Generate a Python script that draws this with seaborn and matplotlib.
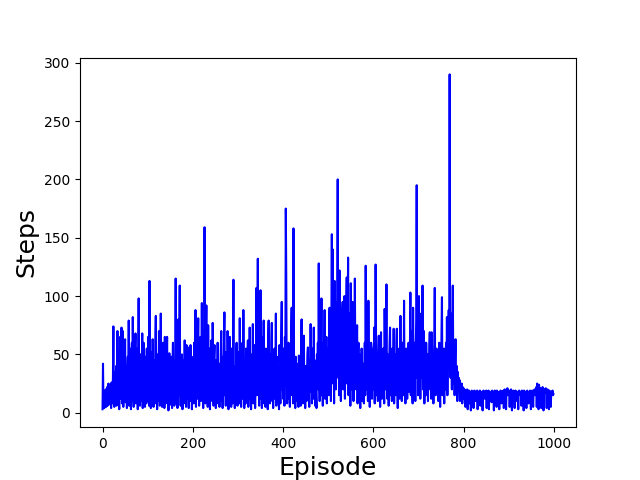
import numpy as np
import pandas as pd
import seaborn as sns
import matplotlib
matplotlib.use("Agg")
import matplotlib.pyplot as plt

# steps per episode in blocks of 100 episodes
steps_000 = [3, 42, 5, 12, 4, 16, 8, 20, 5, 14,
             22, 6, 18, 25, 7, 11, 24, 9, 19, 4,
             26, 13, 8, 30, 74, 12, 5, 35, 20, 9,
             40, 6, 22, 70, 10, 45, 15, 3, 38, 65,
             12, 50, 73, 8, 25, 70, 5, 30, 14, 55,
             63, 9, 40, 20, 4, 35, 48, 12, 79, 6,
             28, 55, 15, 3, 42, 60, 10, 82, 25, 5,
             45, 18, 50, 68, 8, 30, 12, 55, 3, 40,
             98, 15, 35, 6, 50, 22, 10, 45, 68, 4,
             38, 60, 12, 25, 5, 48, 30, 8, 55, 20]
steps_100 = [10, 65, 35, 6, 113, 18, 40, 4, 28, 52,
             12, 63, 30, 5, 45, 20, 8, 60, 83, 14,
             35, 3, 50, 25, 10, 70, 40, 6, 22, 85,
             15, 48, 5, 30, 60, 12, 38, 4, 65, 20,
             8, 55, 30, 65, 10, 42, 2, 25, 51, 15,
             35, 7, 48, 22, 4, 40, 60, 12, 30, 6,
             45, 20, 115, 8, 55, 30, 4, 38, 80, 15,
             60, 109, 25, 6, 42, 18, 50, 3, 30, 12,
             45, 22, 62, 8, 35, 5, 58, 28, 12, 50,
             20, 4, 56, 35, 10, 58, 15, 42, 3, 30]
steps_200 = [25, 48, 8, 60, 15, 35, 88, 5, 40, 20,
             12, 55, 81, 30, 6, 45, 22, 65, 10, 38,
             94, 15, 50, 4, 70, 25, 159, 40, 8, 60,
             92, 20, 45, 5, 75, 30, 12, 55, 3, 40,
             18, 62, 28, 10, 77, 35, 6, 48, 58, 15,
             30, 4, 45, 22, 12, 60, 8, 38, 25, 5,
             42, 18, 55, 70, 10, 35, 4, 48, 28, 62,
             86, 15, 40, 6, 52, 25, 10, 70, 32, 3,
             45, 20, 65, 12, 38, 5, 55, 28, 8, 50,
             114, 18, 40, 4, 30, 12, 48, 60, 22, 6]
steps_300 = [35, 15, 52, 8, 81, 25, 42, 5, 30, 18,
             60, 12, 88, 35, 4, 45, 20, 8, 55, 28,
             10, 40, 62, 5, 30, 18, 73, 12, 45, 3,
             25, 50, 15, 76, 8, 38, 22, 58, 4, 30,
             48, 107, 15, 60, 132, 20, 35, 6, 50, 25,
             105, 12, 42, 4, 30, 65, 18, 79, 8, 45,
             22, 5, 55, 30, 12, 40, 3, 62, 79, 18,
             35, 8, 50, 25, 60, 77, 10, 38, 4, 45,
             20, 55, 12, 32, 85, 6, 48, 25, 10, 40,
             15, 3, 58, 30, 8, 45, 70, 95, 20, 40]
steps_400 = [12, 55, 28, 6, 65, 40, 175, 118, 30, 8,
             45, 20, 60, 12, 35, 5, 50, 25, 70, 90,
             15, 40, 8, 158, 55, 20, 35, 4, 48, 28,
             10, 42, 18, 30, 5, 49, 25, 12, 38, 6,
             55, 80, 20, 35, 8, 45, 66, 15, 28, 4,
             40, 22, 10, 35, 50, 56, 12, 30, 5, 45,
             25, 76, 18, 40, 8, 55, 30, 12, 73, 22,
             45, 6, 35, 15, 4, 50, 28, 60, 20, 128,
             35, 10, 55, 25, 45, 98, 15, 40, 6, 60,
             30, 50, 88, 12, 40, 25, 65, 8, 45, 20]
steps_500 = [55, 15, 70, 90, 30, 60, 10, 85, 153, 40,
             140, 25, 75, 8, 113, 45, 95, 20, 65, 35,
             100, 200, 30, 80, 15, 122, 50, 90, 10, 70,
             40, 85, 95, 20, 60, 30, 100, 12, 75, 45,
             90, 116, 25, 70, 133, 15, 55, 35, 85, 6,
             111, 40, 65, 20, 95, 50, 10, 80, 35, 115,
             45, 70, 20, 55, 75, 8, 40, 60, 15, 50,
             30, 4, 45, 20, 55, 10, 35, 25, 42, 8,
             30, 60, 15, 126, 40, 20, 55, 70, 10, 96,
             35, 50, 5, 45, 25, 60, 56, 12, 40, 20]
steps_600 = [55, 30, 73, 8, 45, 127, 60, 15, 40, 25,
             10, 50, 66, 20, 35, 5, 45, 69, 25, 12,
             40, 18, 55, 30, 8, 89, 45, 20, 60, 110,
             35, 12, 50, 25, 6, 40, 60, 73, 15, 30,
             45, 10, 55, 20, 35, 72, 8, 40, 25, 50,
             15, 60, 72, 30, 4, 45, 20, 55, 12, 35,
             83, 25, 40, 10, 60, 30, 50, 15, 96, 20,
             45, 8, 35, 55, 39, 12, 40, 25, 60, 18,
             30, 50, 103, 15, 45, 70, 25, 8, 90, 40,
             20, 60, 35, 10, 55, 80, 195, 30, 65, 15]
steps_700 = [45, 100, 25, 60, 12, 40, 85, 30, 55, 109,
             20, 45, 70, 8, 60, 35, 15, 60, 40, 25,
             50, 10, 45, 30, 55, 69, 20, 40, 12, 69,
             35, 25, 50, 8, 45, 60, 107, 30, 15, 40,
             55, 20, 35, 47, 10, 45, 60, 25, 5, 50,
             30, 70, 99, 15, 40, 25, 55, 8, 35, 20,
             45, 60, 30, 82, 15, 50, 75, 88, 40, 290,
             60, 30, 85, 45, 20, 70, 109, 40, 25, 55,
             15, 45, 63, 30, 20, 40, 10, 35, 25, 30,
             18, 28, 10, 25, 20, 15, 25, 8, 22, 18]
steps_800 = [21, 12, 20, 18, 5, 19, 17, 14, 20, 3,
             18, 16, 19, 8, 17, 15, 2, 18, 19, 16,
             14, 18, 4, 17, 19, 15, 18, 10, 17, 16,
             19, 3, 18, 16, 17, 14, 19, 6, 18, 17,
             15, 18, 2, 17, 19, 16, 18, 12, 17, 15,
             19, 4, 18, 17, 16, 19, 3, 18, 15, 17,
             18, 16, 9, 19, 17, 15, 18, 2, 17, 19,
             16, 18, 17, 5, 19, 15, 18, 17, 14, 3,
             18, 17, 19, 16, 8, 18, 15, 17, 19, 4,
             17, 20, 16, 18, 3, 19, 17, 21, 15, 18]
steps_900 = [16, 19, 5, 18, 17, 20, 15, 2, 18, 17,
             19, 16, 18, 4, 17, 19, 15, 18, 10, 17,
             18, 3, 17, 19, 16, 18, 15, 17, 6, 19,
             17, 18, 16, 2, 19, 17, 18, 15, 17, 4,
             18, 19, 16, 17, 8, 18, 15, 19, 17, 3,
             18, 17, 19, 16, 5, 18, 17, 20, 15, 18,
             19, 22, 5, 25, 18, 20, 3, 24, 19, 17,
             21, 18, 4, 19, 17, 22, 16, 2, 18, 20,
             17, 19, 21, 15, 4, 18, 20, 17, 16, 3,
             19, 17, 18, 5, 16, 18, 17, 19, 15, 16]

steps = (steps_000 + steps_100 + steps_200 + steps_300 + steps_400 +
         steps_500 + steps_600 + steps_700 + steps_800 + steps_900)
df = pd.DataFrame({"Episode": np.arange(len(steps)), "Steps": steps})

fig, ax = plt.subplots(figsize=(6.4, 4.8), dpi=100)
sns.lineplot(data=df, x="Episode", y="Steps", color="blue", linewidth=1.5, ax=ax)
ax.set_xlabel("Episode", fontsize=18)
ax.set_ylabel("Steps", fontsize=18)
ax.set_yticks([0, 50, 100, 150, 200, 250, 300])
fig.savefig("out.png")
